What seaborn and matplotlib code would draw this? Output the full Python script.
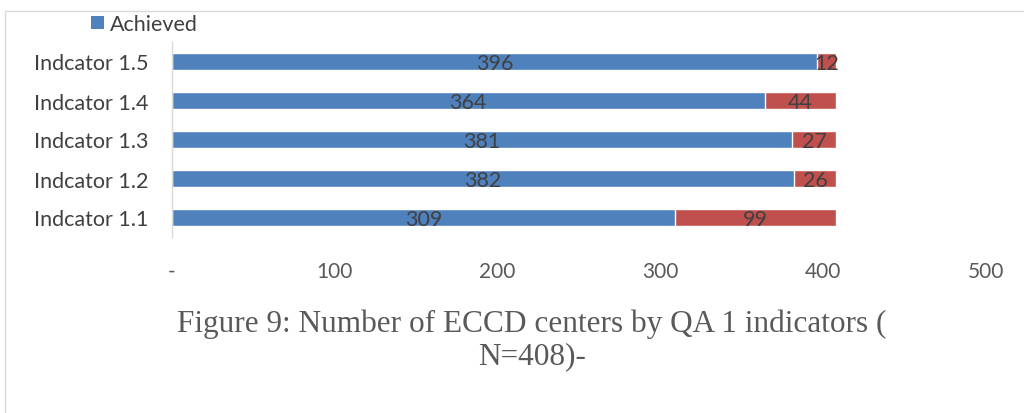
import matplotlib
matplotlib.use("Agg")
import matplotlib.pyplot as plt
import seaborn as sns
import pandas as pd
from matplotlib.lines import Line2D
from matplotlib.patches import Patch

categories = ["Indcator 1.5", "Indcator 1.4", "Indcator 1.3", "Indcator 1.2", "Indcator 1.1"]
achieved = [396, 364, 381, 382, 309]
not_achieved = [12, 44, 27, 26, 99]
xticks = [0, 100, 200, 300, 400, 500]
xtick_labels = ["-", "100", "200", "300", "400", "500"]
caption = "Figure 9: Number of ECCD centers by QA 1 indicators (\nN=408)-"

BLUE = "#4F81BD"
RED = "#C0504D"
TXT = "#404040"

sns.set_theme(style="white")
plt.rcParams["font.family"] = ["Lato", "DejaVu Sans"]

df = pd.DataFrame({
    "cat": categories,
    "achieved": achieved,
    "not_achieved": not_achieved,
})
df["total"] = df["achieved"] + df["not_achieved"]

fig = plt.figure(figsize=(10.24, 4.14), dpi=100)
ax = fig.add_axes([172/1024, 1-238/414, (986-172)/1024, 195/414])

sns.barplot(data=df, x="total", y="cat", color=RED, saturation=1, width=0.42, ax=ax, orient="h")
sns.barplot(data=df, x="achieved", y="cat", color=BLUE, saturation=1, width=0.42, ax=ax, orient="h")

for i, (a, n) in enumerate(zip(achieved, not_achieved)):
    ax.text(a / 2, i + 0.05, str(a), ha="center", va="center", color=TXT, fontsize=15.5)
    ax.text(a + n / 2, i + 0.05, str(n), ha="center", va="center", color=TXT, fontsize=15.5)

ax.set_xlim(0, 500)
ax.set_ylim(4.5, -0.5)
ax.set_xticks(xticks)
ax.set_xticklabels(xtick_labels, color="#595959", fontsize=15)
ax.tick_params(axis="x", length=0, pad=17)
ax.tick_params(axis="y", length=0, pad=17, labelsize=15.5, labelcolor=TXT)
ax.set_xlabel("")
ax.set_ylabel("")
for s in ["top", "right", "bottom"]:
    ax.spines[s].set_visible(False)
ax.spines["left"].set_color("#D9D9D9")
ax.spines["left"].set_linewidth(1)

handles = [Patch(facecolor=BLUE, edgecolor="none", label="Achieved")]
fig.legend(handles=handles, loc="center left", bbox_to_anchor=(91/1024, 1-25/414),
           frameon=False, fontsize=15.5, handlelength=0.6, handleheight=0.6,
           handletextpad=0.3, labelcolor=TXT, borderaxespad=0, borderpad=0)

fig.text(532/1024, 1-340/414, caption, ha="center", va="center", fontsize=22.5,
         color="#595959", family=["Liberation Serif", "DejaVu Serif"], linespacing=1.15)

# chart-area border
fig.add_artist(Line2D([5/1024, 5/1024], [0, 1-12/414], transform=fig.transFigure, color="#D9D9D9", lw=1))
fig.add_artist(Line2D([5/1024, 1], [1-12/414, 1-12/414], transform=fig.transFigure, color="#D9D9D9", lw=1))

fig.savefig("out.png", dpi=100)
